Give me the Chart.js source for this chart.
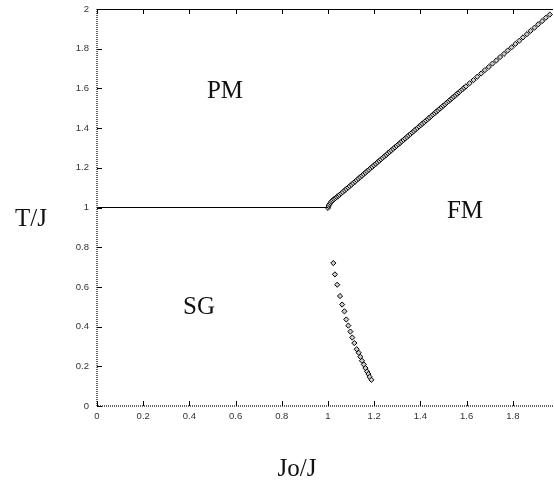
<!DOCTYPE html>
<html>
<head>
<meta charset="utf-8">
<script src="https://cdn.jsdelivr.net/npm/chart.js@4/dist/chart.umd.min.js"></script>
<style>
  html, body { margin: 0; padding: 0; background: #fff; }
  canvas { display: block; }
</style>
</head>
<body>
<canvas id="phase" width="554" height="488"></canvas>
<script>
// tick labels
const xTicks = [0, 0.2, 0.4, 0.6, 0.8, 1, 1.2, 1.4, 1.6, 1.8];
const yTicks = [0, 0.2, 0.4, 0.6, 0.8, 1, 1.2, 1.4, 1.6, 1.8, 2];

// T/J = 1 line, PM / SG border
const pmSgX = [0, 1];
const pmSgT = [1, 1];

// PM / FM boundary (diamonds)
const pmFmX = [
    1.000, 1.003, 1.006, 1.010, 1.015, 1.020, 1.026, 1.032, 1.038, 1.044, 1.050,
    1.057, 1.064, 1.072, 1.079, 1.087, 1.094, 1.102, 1.109, 1.117, 1.124, 1.132,
    1.139, 1.147, 1.154, 1.162, 1.169, 1.177, 1.184, 1.192, 1.199, 1.207, 1.214,
    1.222, 1.229, 1.237, 1.244, 1.252, 1.259, 1.267, 1.274, 1.282, 1.289, 1.297,
    1.304, 1.312, 1.319, 1.327, 1.334, 1.342, 1.349, 1.357, 1.364, 1.372, 1.379,
    1.387, 1.394, 1.402, 1.409, 1.417, 1.424, 1.432, 1.439, 1.447, 1.454, 1.462,
    1.469, 1.477, 1.484, 1.492, 1.499, 1.507, 1.514, 1.522, 1.529, 1.537, 1.544,
    1.552, 1.559, 1.567, 1.574, 1.582, 1.589, 1.597,
    1.613, 1.630, 1.646, 1.663, 1.679, 1.696, 1.712, 1.729, 1.745, 1.762, 1.778,
    1.795, 1.811, 1.828, 1.844, 1.861, 1.877, 1.894, 1.910, 1.927, 1.943, 1.960
];
const pmFmT = [
    0.998, 1.008, 1.016, 1.023, 1.030, 1.036, 1.042, 1.047, 1.053, 1.058, 1.064,
    1.071, 1.078, 1.086, 1.093, 1.100, 1.108, 1.115, 1.123, 1.130, 1.138, 1.145,
    1.153, 1.160, 1.168, 1.175, 1.183, 1.190, 1.198, 1.205, 1.213, 1.220, 1.228,
    1.235, 1.243, 1.250, 1.258, 1.265, 1.273, 1.280, 1.288, 1.295, 1.303, 1.310,
    1.318, 1.325, 1.333, 1.340, 1.348, 1.355, 1.363, 1.370, 1.378, 1.385, 1.393,
    1.400, 1.408, 1.415, 1.423, 1.430, 1.438, 1.445, 1.453, 1.460, 1.468, 1.475,
    1.483, 1.490, 1.498, 1.505, 1.513, 1.520, 1.528, 1.535, 1.543, 1.550, 1.558,
    1.565, 1.573, 1.580, 1.588, 1.595, 1.603, 1.610,
    1.626, 1.642, 1.659, 1.675, 1.692, 1.708, 1.725, 1.741, 1.758, 1.774, 1.791,
    1.807, 1.824, 1.840, 1.857, 1.873, 1.890, 1.906, 1.923, 1.939, 1.956, 1.972
];

// SG / FM boundary (diamonds)
const sgFmX = [
    1.023, 1.030, 1.040, 1.052, 1.061, 1.071, 1.079, 1.088, 1.097, 1.105, 1.114,
    1.124, 1.133, 1.140, 1.147, 1.155, 1.162, 1.169, 1.175, 1.180, 1.188
];
const sgFmT = [
    0.720, 0.663, 0.611, 0.554, 0.511, 0.477, 0.436, 0.405, 0.375, 0.345, 0.317,
    0.286, 0.268, 0.248, 0.228, 0.209, 0.191, 0.174, 0.161, 0.147, 0.132
];

// phase names, placed in data coordinates
const phaseNames = ['PM', 'FM', 'SG'];
const phaseX = [0.554, 1.593, 0.442];
const phaseT = [1.55, 0.947, 0.463];

const SERIF = '"Liberation Serif", "Times New Roman", serif';
const SANS = '"Liberation Sans", Arial, sans-serif';

function toPoints(xs, ys) {
    return xs.map((x, i) => ({ x: x, y: ys[i] }));
}

function fmtTick(v) {
    return String(Math.round(v * 10) / 10);
}

// frame, inward ticks, x tick labels and text labels
const framePlugin = {
    id: 'frame',
    afterDraw(chart) {
        const ctx = chart.ctx;
        const a = chart.chartArea;
        const xs = chart.scales.x;
        const ys = chart.scales.y;
        ctx.save();

        // top border
        ctx.strokeStyle = '#000';
        ctx.lineWidth = 1;
        ctx.beginPath();
        ctx.moveTo(a.left, a.top + 0.5);
        ctx.lineTo(a.right, a.top + 0.5);
        ctx.stroke();

        // left and bottom axes (dotted look)
        ctx.strokeStyle = '#333';
        ctx.lineWidth = 1.5;
        ctx.setLineDash([1, 1]);
        ctx.beginPath();
        ctx.moveTo(a.left, a.top);
        ctx.lineTo(a.left, a.bottom);
        ctx.lineTo(a.right, a.bottom);
        ctx.stroke();
        ctx.setLineDash([]);

        // ticks
        ctx.strokeStyle = '#000';
        ctx.lineWidth = 1;
        ctx.beginPath();
        xTicks.forEach(v => {
            const px = Math.round(xs.getPixelForValue(v)) + 0.5;
            ctx.moveTo(px, a.bottom);
            ctx.lineTo(px, a.bottom - 5);
            ctx.moveTo(px, a.top);
            ctx.lineTo(px, a.top + 5);
        });
        yTicks.forEach(v => {
            const py = Math.round(ys.getPixelForValue(v)) + 0.5;
            ctx.moveTo(a.left, py);
            ctx.lineTo(a.left + 5, py);
        });
        ctx.stroke();

        // x tick labels (drawn here so the last label adds no right padding)
        ctx.fillStyle = '#333';
        ctx.font = '9.5px ' + SANS;
        ctx.textAlign = 'center';
        ctx.textBaseline = 'top';
        xTicks.forEach(v => {
            ctx.fillText(fmtTick(v), xs.getPixelForValue(v), a.bottom + 6);
        });

        // phase names
        ctx.fillStyle = '#111';
        ctx.font = '25px ' + SERIF;
        ctx.textBaseline = 'alphabetic';
        phaseNames.forEach((name, i) => {
            ctx.fillText(name, xs.getPixelForValue(phaseX[i]), ys.getPixelForValue(phaseT[i]));
        });

        // axis titles
        ctx.fillText('T/J', 31, 226);
        ctx.fillText('Jo/J', 297, 476);

        ctx.restore();
    }
};

const diamond = {
    pointStyle: 'rectRot',
    pointRadius: 2.6,
    borderWidth: 1,
    borderColor: '#000',
    backgroundColor: '#ccc'
};

new Chart(document.getElementById('phase'), {
    type: 'scatter',
    data: {
        datasets: [
            {
                data: toPoints(pmSgX, pmSgT),
                showLine: true,
                borderColor: '#000',
                borderWidth: 1,
                pointRadius: 0
            },
            Object.assign({ data: toPoints(pmFmX, pmFmT) }, diamond),
            Object.assign({ data: toPoints(sgFmX, sgFmT) }, diamond)
        ]
    },
    options: {
        responsive: false,
        animation: false,
        layout: { autoPadding: false, padding: { top: 9, right: 1, bottom: 0, left: 0 } },
        plugins: {
            legend: { display: false },
            tooltip: { enabled: false }
        },
        scales: {
            x: {
                type: 'linear',
                min: 0,
                max: 1.974,
                grid: { display: false, drawTicks: false },
                border: { display: false },
                ticks: { display: false },
                afterBuildTicks: s => { s.ticks = xTicks.map(v => ({ value: v })); },
                afterFit: s => { s.height = 82; }
            },
            y: {
                type: 'linear',
                min: 0,
                max: 2,
                grid: { display: false, drawTicks: false },
                border: { display: false },
                ticks: {
                    padding: 8,
                    color: '#333',
                    font: { family: SANS, size: 9.5 },
                    callback: fmtTick
                },
                afterBuildTicks: s => { s.ticks = yTicks.map(v => ({ value: v })); },
                afterFit: s => { s.width = 97; s.paddingTop = 0; s.paddingBottom = 0; }
            }
        }
    },
    plugins: [framePlugin]
});
</script>
</body>
</html>
